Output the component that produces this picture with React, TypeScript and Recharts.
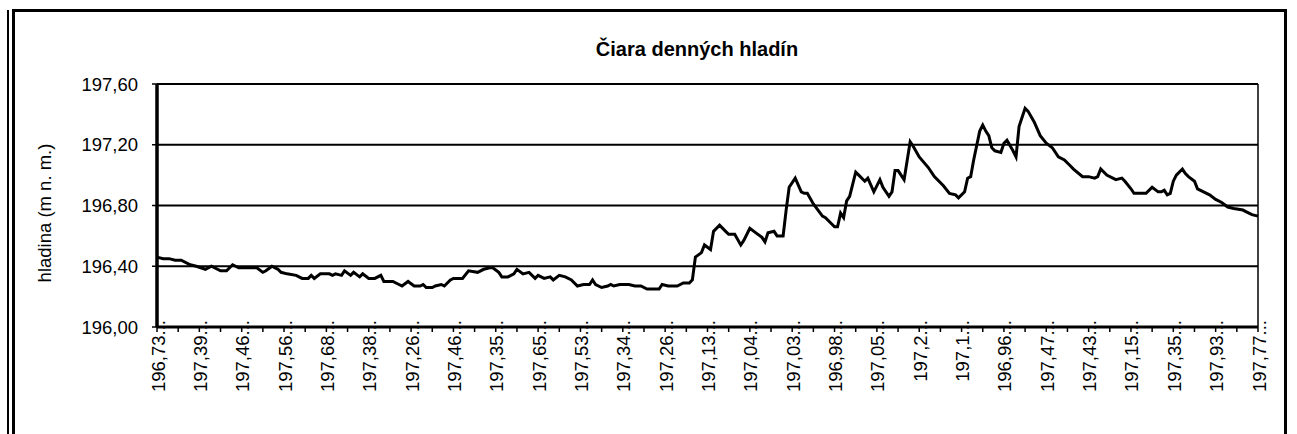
import { LineChart, Line, XAxis, YAxis, CartesianGrid, ReferenceLine } from 'recharts';

// day index (0..364) and daily water level (m n. m.)
const days = [
  0, 2, 4, 6, 8, 11, 13, 16, 18, 21, 23, 25, 27, 29, 31, 33, 35, 36, 38, 40,
  41, 43, 46, 48, 50, 51, 52, 54, 57, 58, 59, 61, 62, 64, 65, 67, 68, 70, 72, 74,
  75, 78, 80, 81, 83, 85, 87, 88, 89, 91, 92, 94, 95, 97, 98, 101, 103, 106, 108, 110,
  111, 113, 114, 116, 118, 119, 121, 123, 125, 126, 128, 130, 131, 133, 135, 137, 139, 141, 143, 144,
  145, 147, 149, 150, 151, 153, 156, 158, 160, 162, 164, 166, 167, 169, 172, 174, 176, 177, 178, 180,
  181, 183, 184, 186, 188, 189, 191, 193, 194, 196, 198, 200, 201, 202, 204, 205, 207, 208, 209, 211,
  213, 214, 215, 217, 220, 221, 224, 225, 226, 227, 228, 229, 231, 232, 234, 235, 237, 239, 240, 242,
  243, 244, 245, 247, 249, 250, 252, 255, 257, 260, 262, 264, 265, 267, 268, 269, 270, 272, 273, 274,
  275, 276, 277, 279, 280, 281, 283, 284, 285, 287, 288, 290, 292, 294, 296, 298, 300, 302, 303, 306,
  308, 310, 311, 312, 314, 317, 319, 320, 322, 323, 327, 329, 331, 332, 333, 334, 335, 336, 337, 339,
  340, 341, 343, 344, 346, 348, 350, 352, 354, 356, 359, 360, 362, 364,
];

const levels = [
  196.46, 196.45, 196.45, 196.44, 196.44, 196.41, 196.40, 196.38, 196.40, 196.37, 196.37, 196.41, 196.39, 196.39, 196.39, 196.39, 196.36, 196.37, 196.40, 196.38,
  196.36, 196.35, 196.34, 196.32, 196.32, 196.34, 196.32, 196.35, 196.35, 196.34, 196.35, 196.34, 196.37, 196.34, 196.36, 196.33, 196.35, 196.32, 196.32, 196.34,
  196.30, 196.30, 196.28, 196.27, 196.30, 196.27, 196.27, 196.28, 196.26, 196.26, 196.27, 196.28, 196.27, 196.31, 196.32, 196.32, 196.37, 196.36, 196.38, 196.39,
  196.39, 196.36, 196.33, 196.33, 196.35, 196.38, 196.35, 196.36, 196.32, 196.34, 196.32, 196.33, 196.31, 196.34, 196.33, 196.31, 196.27, 196.28, 196.28, 196.31,
  196.28, 196.26, 196.27, 196.28, 196.27, 196.28, 196.28, 196.27, 196.27, 196.25, 196.25, 196.25, 196.28, 196.27, 196.27, 196.29, 196.29, 196.31, 196.46, 196.49,
  196.54, 196.51, 196.63, 196.67, 196.63, 196.61, 196.61, 196.54, 196.57, 196.65, 196.62, 196.59, 196.56, 196.62, 196.63, 196.60, 196.60, 196.77, 196.92, 196.98,
  196.89, 196.88, 196.88, 196.81, 196.73, 196.72, 196.66, 196.66, 196.75, 196.72, 196.83, 196.86, 197.02, 197.00, 196.96, 196.98, 196.89, 196.97, 196.92, 196.86,
  196.89, 197.03, 197.03, 196.97, 197.22, 197.19, 197.12, 197.05, 196.99, 196.93, 196.88, 196.87, 196.85, 196.89, 196.98, 196.99, 197.10, 197.29, 197.33, 197.29,
  197.26, 197.18, 197.16, 197.15, 197.21, 197.23, 197.16, 197.12, 197.32, 197.44, 197.42, 197.35, 197.26, 197.21, 197.18, 197.12, 197.10, 197.06, 197.04, 196.99,
  196.99, 196.98, 196.99, 197.04, 197.00, 196.97, 196.98, 196.96, 196.91, 196.88, 196.88, 196.92, 196.89, 196.89, 196.90, 196.87, 196.88, 196.96, 197.00, 197.04,
  197.01, 196.99, 196.96, 196.91, 196.89, 196.87, 196.84, 196.82, 196.79, 196.78, 196.77, 196.76, 196.74, 196.73,
];

// category labels, one every 14 days
const xLabels = [
  '196,73...', '197,39...', '197,46...', '197,56...', '197,68...', '197,38...', '197,26...',
  '197,46...', '197,35...', '197,65...', '197,53...', '197,34...', '197,26...', '197,13...',
  '197,04...', '197,03...', '196,98...', '197,05...', '197,2...', '197,1...', '196,96...',
  '197,47...', '197,43...', '197,15...', '197,35...', '197,93...', '197,77...',
];

const yTicks = [196.0, 196.4, 196.8, 197.2, 197.6];
const xTicks = Array.from({ length: 53 }, (_, i) => i * 7);

const data = days.map((d, i) => ({ day: d, level: levels[i] }));

const FONT = '"Liberation Sans", Arial, sans-serif';

function XTick(props: any) {
  const { x, y, payload } = props;
  const v = payload.value as number;
  if (v % 14 !== 0) return null;
  const px = x + 7.5;
  const py = y - 14;
  return (
    <text
      x={px}
      y={py}
      transform={`rotate(-90, ${px}, ${py})`}
      textAnchor="end"
      fontSize={18.5}
      fontFamily={FONT}
      fill="#000"
    >
      {xLabels[v / 14]}
    </text>
  );
}

export default function App() {
  return (
    <div style={{ position: 'absolute', left: 0, top: 0, width: 1297, height: 434, background: '#fff', overflow: 'hidden' }}>
      {/* outer frame */}
      <div style={{ position: 'absolute', left: 7, top: 10, width: 2, height: 440, background: '#000' }} />
      <div
        style={{
          position: 'absolute',
          left: 12,
          top: 9,
          width: 1269,
          height: 440,
          borderTop: '3px solid #000',
          borderLeft: '3px solid #000',
          borderRight: '3px solid #000',
        }}
      />
      <div style={{ position: 'absolute', left: 0, top: 0 }}>
        <LineChart width={1297} height={434} data={data} margin={{ top: 84, right: 39, bottom: 27, left: 97 }}>
          <CartesianGrid vertical={false} stroke="#000" strokeWidth={2} />
          <XAxis
            dataKey="day"
            type="number"
            domain={[0, 364]}
            ticks={xTicks}
            interval={0}
            height={80}
            tick={<XTick />}
            tickSize={5}
            axisLine={{ stroke: '#000', strokeWidth: 3 }}
            tickLine={{ stroke: '#000', strokeWidth: 1.5 }}
          />
          <YAxis
            type="number"
            domain={[196, 197.6]}
            ticks={yTicks}
            width={60}
            tickSize={5}
            tickMargin={14}
            tickFormatter={(v: number) => v.toFixed(2).replace('.', ',')}
            tick={{ fontSize: 18.5, fill: '#000', fontFamily: FONT }}
            axisLine={{ stroke: '#000', strokeWidth: 3 }}
            tickLine={{ stroke: '#000', strokeWidth: 1.5 }}
          />
          <ReferenceLine x={0} stroke="#000" strokeWidth={3} />
          <ReferenceLine x={364} stroke="#000" strokeWidth={1.5} />
          <Line
            type="linear"
            dataKey="level"
            stroke="#000"
            strokeWidth={3}
            dot={false}
            isAnimationActive={false}
          />
        </LineChart>
      </div>
      <svg width={1297} height={434} style={{ position: 'absolute', left: 0, top: 0, pointerEvents: 'none' }}>
        <text x={697} y={56} textAnchor="middle" fontSize={20} fontWeight="bold" fontFamily={FONT} fill="#000">
          Čiara denných hladín
        </text>
        <text
          x={51}
          y={213}
          transform="rotate(-90, 51, 213)"
          textAnchor="middle"
          fontSize={18.5}
          fontFamily={FONT}
          fill="#000"
        >
          hladina (m n. m.)
        </text>
      </svg>
    </div>
  );
}
